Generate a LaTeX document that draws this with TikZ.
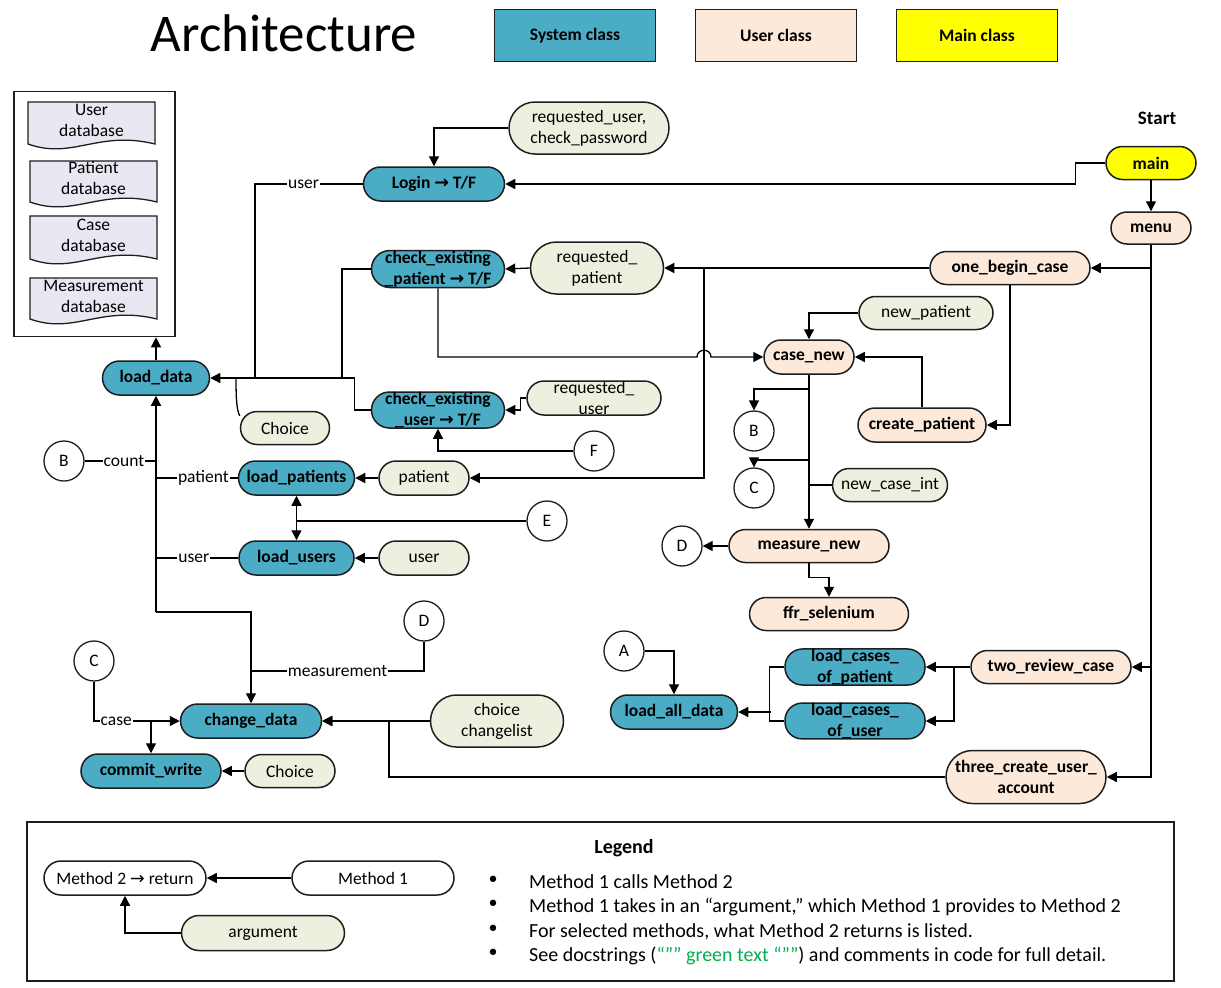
\documentclass[tikz,border=0pt]{standalone}
\usepackage{fontspec}
\setmainfont{Carlito}
\newfontfamily\symfont{DejaVu Sans}
\usetikzlibrary{arrows.meta}
\definecolor{sysc}{HTML}{4BACC6}
\definecolor{usrc}{HTML}{FDE9D9}
\definecolor{argc}{HTML}{EBF1DE}
\definecolor{mainc}{HTML}{FFFF00}
\definecolor{docc}{HTML}{E9E7F1}
\definecolor{linec}{HTML}{1E1E1E}
\definecolor{docgreen}{HTML}{00B050}
\newcommand\nfs{\fontsize{17.5}{21}\selectfont}
\newcommand\lfs{\fontsize{20}{23}\selectfont}
\newcommand\myarrow{{\symfont →}}
% database document shape with a wavy lower edge
\newcommand\dbdoc[7]{%
  \draw[docst] (#2,#3) -- (#4,#3) -- (#4,#5)
    .. controls ({#4-0.45*(#4-#2)},{#5-14}) and ({#2+0.35*(#4-#2)},{#5+16}) .. (#2,#5) -- cycle;
  \node[font=\nfs, align=center, inner sep=0pt] (#1) at ({(#2+#4)/2},#6) {#7};}
\begin{document}
\begin{tikzpicture}[x=1pt,y=-1pt,
  conn/.style={line width=1.3pt, draw=black},
  arr/.style={conn, -{Triangle[length=10pt,width=10pt]}},
  pill/.style 2 args={rectangle, draw=linec, line width=1.5pt, inner sep=0pt, align=center,
    font=\nfs, minimum width=#1pt, minimum height=#2pt, rounded corners=#2*0.5pt},
  sysn/.style 2 args={pill={#1}{#2}, fill=sysc, font=\nfs\bfseries},
  usrn/.style 2 args={pill={#1}{#2}, fill=usrc, font=\nfs\bfseries},
  argn/.style 2 args={pill={#1}{#2}, fill=argc},
  mainn/.style 2 args={pill={#1}{#2}, fill=mainc, font=\nfs\bfseries},
  plainn/.style 2 args={pill={#1}{#2}, fill=white},
  circ/.style={circle, draw=linec, line width=1.3pt, fill=white, minimum size=40pt, inner sep=0pt, font=\nfs},
  lbl/.style={fill=white, inner sep=1pt, font=\nfs},
  keyb/.style={rectangle, draw=linec, line width=1.5pt, minimum width=161pt, minimum height=52pt, font=\nfs\bfseries},
  docst/.style={draw=linec, line width=1.3pt, fill=docc},
]
\fill[white] (0,0) rectangle (1221,988);
\useasboundingbox (0,0) rectangle (1221,988);

% ---------- heading and colour key ----------
\node[font=\fontsize{53}{60}\selectfont, inner sep=0pt] (title) at (284,33) {Architecture};
\node[keyb, fill=sysc] (keysys) at (575,35.5) {System class};
\node[keyb, fill=usrc] (keyusr) at (776,35.5) {User class};
\node[keyb, fill=mainc] (keymain) at (977,35.5) {Main class};

% ---------- databases ----------
\node[rectangle, draw=linec, line width=1.6pt, minimum width=161pt, minimum height=245pt] (dbbox) at (94.5,214) {};
\dbdoc{dbuser}{28}{102}{155}{144}{120}{User\\database}
\dbdoc{dbpat}{30}{161}{157}{202}{178.5}{Patient\\database}
\dbdoc{dbcase}{30}{216}{157}{259}{235.5}{Case\\database}
\dbdoc{dbmeas}{30}{278}{157}{319}{296.5}{Measurement\\database}

% ---------- system classes ----------
\node[sysn={107}{34}] (loaddata) at (156,378) {load\_data};
\node[sysn={141}{34}] (login) at (434,184) {Login \myarrow{} T/F};
\node[sysn={133}{37}] (chkpat) at (438,269) {check\_existing\\\_patient \myarrow{} T/F};
\node[sysn={133}{36}] (chkusr) at (438,410) {check\_existing\\\_user \myarrow{} T/F};
\node[sysn={116}{34}] (loadpat) at (296.5,478) {load\_patients};
\node[sysn={115}{34}] (loadusr) at (296.5,558) {load\_users};
\node[sysn={141}{34}] (change) at (251,721) {change\_data};
\node[sysn={140}{34}] (commit) at (151,771) {commit\_write};
\node[sysn={127}{34}] (lad) at (674,712) {load\_all\_data};
\node[sysn={140}{35}] (lcp) at (855,667) {load\_cases\_\\of\_patient};
\node[sysn={140}{34}] (lcu) at (855,721) {load\_cases\_\\of\_user};

% ---------- arguments ----------
\node[argn={160}{52}] (reqpw) at (589,128) {requested\_user,\\check\_password};
\node[argn={133}{52}] (reqpat) at (597,268) {requested\_\\patient};
\node[argn={134}{34}] (requsr) at (594,398) {requested\_\\user};
\node[argn={89}{33}] (choice1) at (285,428) {Choice};
\node[argn={90}{34}] (patient) at (424,478) {patient};
\node[argn={90}{34}] (user) at (424,558) {user};
\node[argn={90}{33}] (choice2) at (290,771) {Choice};
\node[argn={133}{52}] (chl) at (497,721) {choice\\changelist};
\node[argn={134}{33}] (newpat) at (926,313) {new\_patient};
\node[argn={115}{33}] (nci) at (890,485) {new\_case\_int};

% ---------- user and main classes ----------
\node[font=\fontsize{19}{22}\selectfont\bfseries] (start) at (1157,118) {Start};
\node[mainn={90}{33}] (main) at (1151,163) {main};
\node[usrn={80}{32}] (menu) at (1151,228) {menu};
\node[usrn={160}{33}] (obc) at (1010,268) {one\_begin\_case};
\node[usrn={90}{34}] (casenew) at (809,357) {case\_new};
\node[usrn={128}{34}] (createpat) at (922,425) {create\_patient};
\node[usrn={160}{33}] (measnew) at (809,546) {measure\_new};
\node[usrn={159}{33}] (ffr) at (829,614) {ffr\_selenium};
\node[usrn={160}{33}] (trc) at (1051,667) {two\_review\_case};
\node[usrn={160}{53}] (tcua) at (1026,777) {three\_create\_user\_\\account};

% ---------- off-page connectors ----------
\node[circ] (Bleft) at (64,461) {B};
\node[circ] (Cleft) at (94,661) {C};
\node[circ] (Dleft) at (424,621) {D};
\node[circ] (E) at (547,521) {E};
\node[circ] (F) at (594,451) {F};
\node[circ] (Bright) at (754,431) {B};
\node[circ] (Cright) at (754,488) {C};
\node[circ] (Dright) at (682,546) {D};
\node[circ] (A) at (624,651) {A};

% ---------- connectors: login and menu ----------
\draw[arr] (reqpw.west) -| (login.north);
\draw[arr] (main.west) -- ++(-30,0) |- (login.east);
\draw[arr] (main.south) -- (menu.north);
\draw[arr] (menu.south) |- (obc.east);
\draw[arr] (menu.south) |- (trc.east);
\draw[arr] (menu.south) |- (tcua.east);

% ---------- connectors into load_data ----------
\draw[conn] (login.west) -- node[lbl,pos=0.55]{user} (255,184) -- (255,378);
\draw[conn] (chkpat.west) -- (342,269) -- (342,378);
\draw[arr] (chkusr.west) -- ++(-16,0) |- (loaddata.east);
\coordinate (cjc) at (236,378);
\draw[conn] (cjc) .. controls (236,402) and (237,410) .. (choice1.165);
\draw[arr] (loaddata.north) -- (loaddata.north |- dbbox.south);

% ---------- patient checks ----------
\draw[arr] (obc.west) -- (reqpat.east);
\draw[arr] (reqpat.west) -- (chkpat.east);
\coordinate (jp) at (704,268);
\draw[arr] (jp) |- (patient.east);
\draw[arr] (patient.west) -- (loadpat.east);
\draw[arr] (user.west) -- (loadusr.east);
\draw[arr] (requsr.west) -- ++(-6,0) |- (chkusr.east);
\draw[arr] (F.west) -| (chkusr.south);
\draw[arr] (E.west) -| (loadpat.south);
\draw[arr] (E.west) -| (loadusr.north);

% ---------- case_new branch ----------
\coordinate (hopl) at (697,357);
\coordinate (hopr) at (711,357);
\draw[arr] (chkpat.south) |- (hopl) .. controls (697,348) and (711,348) .. (hopr) -- (casenew.west);
\draw[arr] (newpat.west) -| (casenew.north);
\draw[arr] (createpat.north) |- (casenew.east);
\draw[arr] (obc.south) |- (createpat.east);
\draw[arr] (casenew.south) -- (casenew.south |- measnew.north);
\coordinate (cb) at (809,389);
\draw[arr] (cb) -| (Bright.north);
\coordinate (cc) at (809,460);
\draw[arr] (cc) -| (Cright.north);
\draw[conn] (nci.west) -- (nci.west -| casenew.south);
\draw[arr] (measnew.west) -- (Dright.east);
\draw[arr] (measnew.south) -- ++(0,14) -| (ffr.north);

% ---------- review branch ----------
\draw[arr] (A.east) -| (lad.north);
\draw[arr] (trc.west) -- (lcp.east);
\coordinate (jt) at (954,667);
\draw[arr] (jt) |- (lcu.east);
\draw[conn] (lcp.west) -- ++(-15,0) |- (lcu.west);
\coordinate (jl) at (771,712);
\draw[arr] (jl) -- (lad.east);

% ---------- change_data and commit ----------
\coordinate (jk) at (389,721);
\draw[arr] (tcua.west) -| (jk) -- (change.east);
\draw[arr] (chl.west) -- (change.east);
\coordinate (trunk) at (156,612);
\draw[arr] (trunk) -- (loaddata.south);
\draw[arr] (trunk) -| (change.north);
\draw[conn] (Bleft.east) -- node[lbl,pos=0.55]{count} (156,461);
\draw[conn] (loadpat.west) -- node[lbl,pos=0.42]{patient} (156,478);
\draw[conn] (loadusr.west) -- node[lbl,pos=0.54]{user} (156,558);
\draw[conn] (Dleft.south) |- node[lbl,pos=0.75]{measurement} (251,671);
\draw[arr] (Cleft.south) |- node[lbl,pos=0.63]{case} (change.west);
\coordinate (jw) at (151,721);
\draw[arr] (jw) -- (commit.north);
\draw[arr] (choice2.west) -- (commit.east);

% ---------- legend ----------
\node[rectangle, draw=linec, line width=1.5pt, minimum width=1147pt, minimum height=159pt] (legbox) at (600.5,901.5) {};
\node[font=\lfs\bfseries] (legtitle) at (624,848) {Legend};
\node[plainn={162}{34}] (m2) at (125,878) {Method 2 \myarrow{} return};
\node[plainn={162}{34}] (m1) at (373,878) {Method 1};
\node[argn={163}{35}] (argl) at (263,933) {argument};
\draw[arr] (m1.west) -- (m2.east);
\draw[arr] (argl.west) -| (m2.south);
\foreach \yy/\nm in {882/b1, 906/b2, 931/b3, 955/b4}
  \node[font=\fontsize{22}{24}\selectfont\symfont, inner sep=0pt] (\nm) at (493,\yy) {•};
\node[font=\lfs, anchor=base west, inner sep=0pt] (lt1) at (529,888.5) {Method 1 calls Method 2};
\node[font=\lfs, anchor=base west, inner sep=0pt] (lt2) at (529,912.5) {Method 1 takes in an “argument,” which Method 1 provides to Method 2};
\node[font=\lfs, anchor=base west, inner sep=0pt] (lt3) at (529,937.5) {For selected methods, what Method 2 returns is listed.};
\node[font=\lfs, anchor=base west, inner sep=0pt] (lt4) at (529,961.5) {See docstrings ({\color{docgreen}“”” green text “””}) and comments in code for full detail.};
\end{tikzpicture}
\end{document}
